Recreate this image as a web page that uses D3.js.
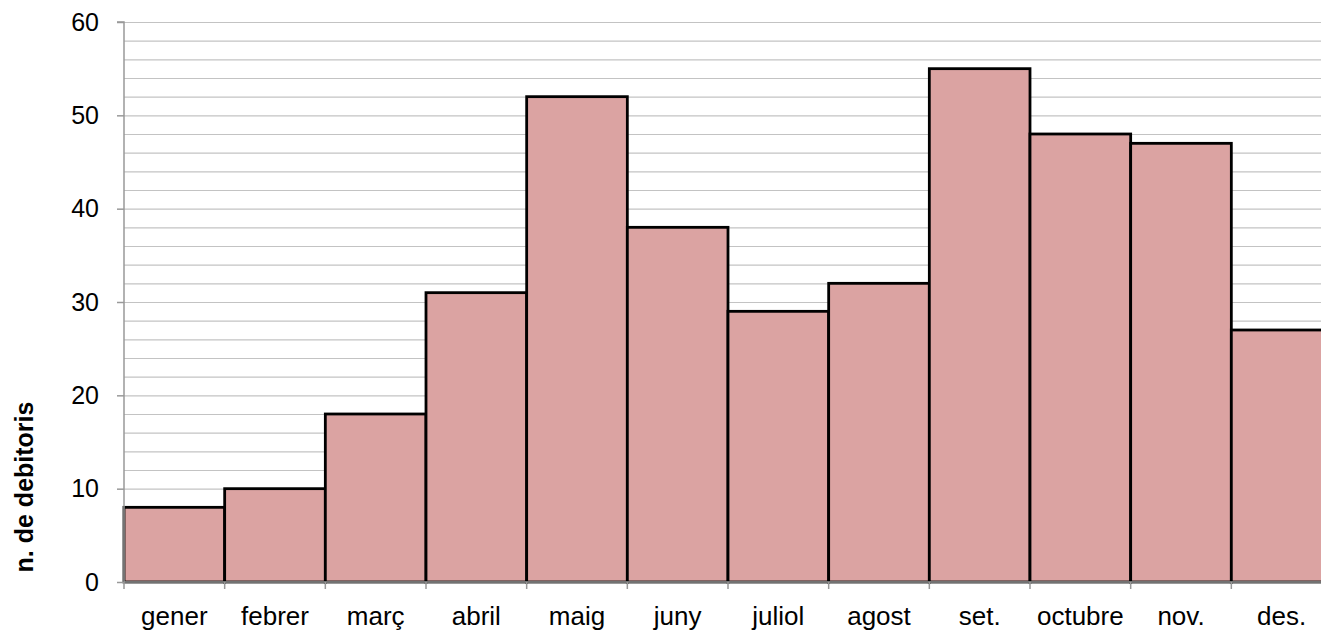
<!DOCTYPE html>
<html><head><meta charset="utf-8">
<script src="https://cdn.jsdelivr.net/npm/d3@7"></script>
<style>body{margin:0;background:#fff;overflow:hidden;}svg{display:block;font-family:"Liberation Sans",Arial,sans-serif;}</style>
</head><body>
<svg id="c" width="1321" height="634"></svg>
<script>
const categories = ["gener","febrer","març","abril","maig","juny","juliol","agost","set.","octubre","nov.","des."];
const values = [8,10,18,31,52,38,29,32,55,48,47,27];
const yTicks = [0,10,20,30,40,50,60];
const yTitle = "n. de debitoris";

const svg = d3.select("#c");
const L = 124, R = 1332, W = 1321, T = 22, B = 582;
const x = d3.scaleBand().domain(categories).range([L, R]).padding(0);
const y = d3.scaleLinear().domain([0, 60]).range([B, T]);

// gridlines every 2
const grid = d3.range(2, 61, 2);
svg.append("g").selectAll("line").data(grid).join("line")
  .attr("x1", L).attr("x2", W).attr("y1", d => y(d)+0.5).attr("y2", d => y(d)+0.5)
  .attr("stroke", "#c3c3c3").attr("stroke-width", 1.2);

// bars
svg.append("g").selectAll("rect").data(values).join("rect")
  .attr("x", (d,i) => x(categories[i]))
  .attr("width", x.bandwidth())
  .attr("y", d => y(d))
  .attr("height", d => B - y(d))
  .attr("fill", "#dba3a2").attr("stroke", "#000").attr("stroke-width", 2.8);

// y axis
const yAxis = d3.axisLeft(y).tickValues(yTicks).tickSize(7).tickPadding(18);
const gy = svg.append("g").attr("transform", `translate(${L},0)`).call(yAxis);
gy.attr("font-size", null).attr("font-family", null);
gy.select(".domain").attr("stroke", "#999").attr("stroke-width", 1.5).attr("d", `M-7,${T}H0V${B}`);
gy.selectAll(".tick line").attr("stroke", "#999").attr("stroke-width", 1.5);
gy.selectAll("text").style("font-size", "25px").attr("fill", "#000");

// x axis
const gx = svg.append("g").attr("transform", `translate(0,${B})`);
gx.append("line").attr("x1", L).attr("x2", W).attr("y1", 0).attr("y2", 0).attr("stroke", "#999").attr("stroke-width", 1.5);
const bounds = categories.map(c => x(c)).concat([x(categories[categories.length-1]) + x.bandwidth()]);
gx.selectAll("line.t").data(bounds).join("line").attr("class","t")
  .attr("x1", d => d).attr("x2", d => d).attr("y1", 0).attr("y2", 7)
  .attr("stroke", "#999").attr("stroke-width", 1.5);
gx.selectAll("text").data(categories).join("text")
  .attr("x", d => x(d) + x.bandwidth()/2).attr("y", 43)
  .attr("text-anchor", "middle").style("font-size", "26px").attr("fill", "#000")
  .text(d => d);

// y title
svg.append("text").attr("transform", "translate(33,487) rotate(-90)")
  .attr("text-anchor", "middle").style("font-size", "25px").attr("font-weight", "bold")
  .text(yTitle);
</script>
</body></html>
